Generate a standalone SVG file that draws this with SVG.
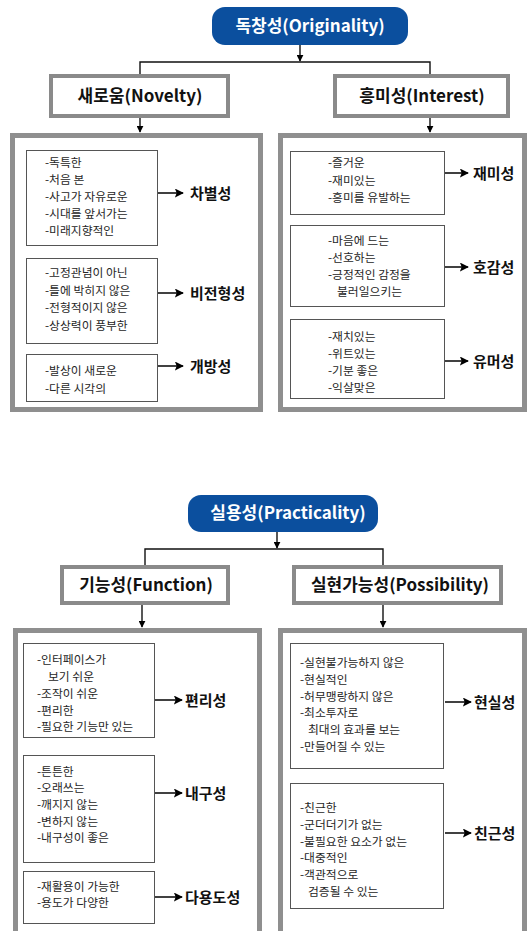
<svg xmlns="http://www.w3.org/2000/svg" width="527" height="931" viewBox="0 0 527 931">
<defs>
<marker id="ah" viewBox="0 0 10 10" refX="9" refY="5" markerWidth="7" markerHeight="7" markerUnits="userSpaceOnUse" orient="auto">
<path d="M0,0 L10,5 L0,10 z" fill="#000"/>
</marker>
<marker id="ah2" viewBox="0 0 10 10" refX="9" refY="5" markerWidth="9" markerHeight="9" markerUnits="userSpaceOnUse" orient="auto">
<path d="M0,0 L10,5 L0,10 L2,5 z" fill="#000"/>
</marker>
<style>
.pill{fill:#0b4f9e}
.ptxt{font-family:"Noto Sans CJK KR","Noto Sans",sans-serif;font-weight:700;font-size:17px;fill:#fff;text-anchor:middle}
.hbox{fill:#fff;stroke:#8a8a8a;stroke-width:4}
.htxt{font-family:"Noto Sans CJK KR","Noto Sans",sans-serif;font-weight:700;font-size:17px;fill:#111;text-anchor:middle}
.panel{fill:#fff;stroke:#8f8f8f;stroke-width:5}
.ibox{fill:#fff;stroke:#555;stroke-width:1}
.itxt{font-family:"Noto Sans CJK KR","Noto Sans",sans-serif;font-size:11.8px;fill:#262626}
.ltxt{font-family:"Noto Sans CJK KR","Noto Sans",sans-serif;font-weight:700;font-size:15px;fill:#111}
.con{fill:none;stroke:#111;stroke-width:1.4}
.arr{fill:none;stroke:#111;stroke-width:1.6}
</style>
</defs>

<g id="connectors">
<line class="con" x1="300" y1="45" x2="300" y2="61" marker-end="url(#ah)"/>
<polyline class="con" points="140,74 140,62 430,62 430,74"/>
<line class="con" x1="140" y1="118" x2="140" y2="132" marker-end="url(#ah)"/>
<line class="con" x1="430" y1="118" x2="430" y2="132" marker-end="url(#ah)"/>
<line class="con" x1="277" y1="532" x2="277" y2="548" marker-end="url(#ah)"/>
<polyline class="con" points="145,565 145,549 383,549 383,565"/>
<line class="con" x1="142" y1="605" x2="142" y2="627" marker-end="url(#ah)"/>
<line class="con" x1="383" y1="605" x2="383" y2="627" marker-end="url(#ah)"/>
</g>

<g id="originality">
<rect class="pill" x="212" y="7" width="196" height="38" rx="13"/>
<text class="ptxt" x="310" y="32">독창성(Originality)</text>
</g>
<g id="novelty">
<rect class="hbox" x="51" y="76" width="177" height="40"/>
<text class="htxt" x="140" y="102">새로움(Novelty)</text>
</g>
<g id="interest">
<rect class="hbox" x="335" y="76" width="173" height="40"/>
<text class="htxt" x="422" y="102">흥미성(Interest)</text>
</g>

<g id="novelty-panel">
<rect class="panel" x="12.5" y="135.5" width="248" height="274"/>
<rect class="ibox" x="26.5" y="150.5" width="131" height="95"/>
<text class="itxt" x="45" y="167">-독특한</text>
<text class="itxt" x="45" y="184">-처음 본</text>
<text class="itxt" x="45" y="201">-사고가 자유로운</text>
<text class="itxt" x="45" y="218">-시대를 앞서가는</text>
<text class="itxt" x="45" y="235">-미래지향적인</text>
<rect class="ibox" x="26.5" y="258.5" width="131" height="85"/>
<text class="itxt" x="45" y="277">-고정관념이 아닌</text>
<text class="itxt" x="45" y="295">-틀에 박히지 않은</text>
<text class="itxt" x="45" y="312">-전형적이지 않은</text>
<text class="itxt" x="45" y="330">-상상력이 풍부한</text>
<rect class="ibox" x="26.5" y="354.5" width="131" height="47"/>
<text class="itxt" x="45" y="375">-발상이 새로운</text>
<text class="itxt" x="45" y="393">-다른 시각의</text>
</g>
<g id="novelty-labels">
<line class="arr" x1="158" y1="193" x2="183" y2="193" marker-end="url(#ah2)"/>
<text class="ltxt" x="190" y="199">차별성</text>
<line class="arr" x1="158" y1="293" x2="183" y2="293" marker-end="url(#ah2)"/>
<text class="ltxt" x="190" y="299">비전형성</text>
<line class="arr" x1="158" y1="366" x2="183" y2="366" marker-end="url(#ah2)"/>
<text class="ltxt" x="190" y="372">개방성</text>
</g>

<g id="interest-panel">
<rect class="panel" x="280.5" y="135.5" width="244" height="274"/>
<rect class="ibox" x="290.5" y="151.5" width="154" height="63"/>
<text class="itxt" x="328" y="167">-즐거운</text>
<text class="itxt" x="328" y="185">-재미있는</text>
<text class="itxt" x="328" y="202">-흥미를 유발하는</text>
<rect class="ibox" x="290.5" y="225.5" width="154" height="81"/>
<text class="itxt" x="328" y="245">-마음에 드는</text>
<text class="itxt" x="328" y="262">-선호하는</text>
<text class="itxt" x="328" y="279">-긍정적인 감정을</text>
<text class="itxt" x="337" y="296">불러일으키는</text>
<rect class="ibox" x="290.5" y="319.5" width="154" height="79"/>
<text class="itxt" x="328" y="341">-재치있는</text>
<text class="itxt" x="328" y="358">-위트있는</text>
<text class="itxt" x="328" y="375">-기분 좋은</text>
<text class="itxt" x="328" y="392">-익살맞은</text>
</g>
<g id="interest-labels">
<line class="arr" x1="445" y1="173" x2="468" y2="173" marker-end="url(#ah2)"/>
<text class="ltxt" x="473" y="179">재미성</text>
<line class="arr" x1="445" y1="267" x2="468" y2="267" marker-end="url(#ah2)"/>
<text class="ltxt" x="473" y="273">호감성</text>
<line class="arr" x1="445" y1="361" x2="468" y2="361" marker-end="url(#ah2)"/>
<text class="ltxt" x="473" y="367">유머성</text>
</g>

<g id="practicality">
<rect class="pill" x="188" y="495" width="190" height="37" rx="13"/>
<text class="ptxt" x="288" y="519">실용성(Practicality)</text>
</g>
<g id="function">
<rect class="hbox" x="62" y="567" width="166" height="36"/>
<text class="htxt" x="146" y="591">기능성(Function)</text>
</g>
<g id="possibility">
<rect class="hbox" x="294" y="567" width="207" height="36"/>
<text class="htxt" x="400" y="591">실현가능성(Possibility)</text>
</g>

<g id="function-panel">
<rect class="panel" x="15.5" y="630.5" width="244" height="310"/>
<rect class="ibox" x="23.5" y="643.5" width="131" height="94"/>
<text class="itxt" x="37" y="664">-인터페이스가</text>
<text class="itxt" x="48" y="681">보기 쉬운</text>
<text class="itxt" x="37" y="698">-조작이 쉬운</text>
<text class="itxt" x="37" y="715">-편리한</text>
<text class="itxt" x="37" y="731">-필요한 기능만 있는</text>
<rect class="ibox" x="23.5" y="755.5" width="131" height="107"/>
<text class="itxt" x="37" y="776">-튼튼한</text>
<text class="itxt" x="37" y="792">-오래쓰는</text>
<text class="itxt" x="37" y="809">-깨지지 않는</text>
<text class="itxt" x="37" y="826">-변하지 않는</text>
<text class="itxt" x="37" y="842">-내구성이 좋은</text>
<rect class="ibox" x="23.5" y="871.5" width="131" height="52"/>
<text class="itxt" x="37" y="891">-재활용이 가능한</text>
<text class="itxt" x="37" y="907">-용도가 다양한</text>
</g>
<g id="function-labels">
<line class="arr" x1="155" y1="700" x2="182" y2="700" marker-end="url(#ah2)"/>
<text class="ltxt" x="185" y="706">편리성</text>
<line class="arr" x1="155" y1="793" x2="182" y2="793" marker-end="url(#ah2)"/>
<text class="ltxt" x="185" y="799">내구성</text>
<line class="arr" x1="155" y1="897" x2="182" y2="897" marker-end="url(#ah2)"/>
<text class="ltxt" x="185" y="903">다용도성</text>
</g>

<g id="possibility-panel">
<rect class="panel" x="280.5" y="630.5" width="244" height="310"/>
<rect class="ibox" x="290.5" y="643.5" width="153" height="125"/>
<text class="itxt" x="300" y="667">-실현불가능하지 않은</text>
<text class="itxt" x="300" y="684">-현실적인</text>
<text class="itxt" x="300" y="701">-허무맹랑하지 않은</text>
<text class="itxt" x="300" y="717">-최소투자로</text>
<text class="itxt" x="308" y="734">최대의 효과를 보는</text>
<text class="itxt" x="300" y="751">-만들어질 수 있는</text>
<rect class="ibox" x="290.5" y="783.5" width="153" height="125"/>
<text class="itxt" x="300" y="812">-친근한</text>
<text class="itxt" x="300" y="829">-군더더기가 없는</text>
<text class="itxt" x="300" y="846">-불필요한 요소가 없는</text>
<text class="itxt" x="300" y="862">-대중적인</text>
<text class="itxt" x="300" y="879">-객관적으로</text>
<text class="itxt" x="308" y="896">검증될 수 있는</text>
</g>
<g id="possibility-labels">
<line class="arr" x1="445" y1="702" x2="471" y2="702" marker-end="url(#ah2)"/>
<text class="ltxt" x="474" y="708">현실성</text>
<line class="arr" x1="445" y1="833" x2="471" y2="833" marker-end="url(#ah2)"/>
<text class="ltxt" x="474" y="839">친근성</text>
</g>
</svg>
